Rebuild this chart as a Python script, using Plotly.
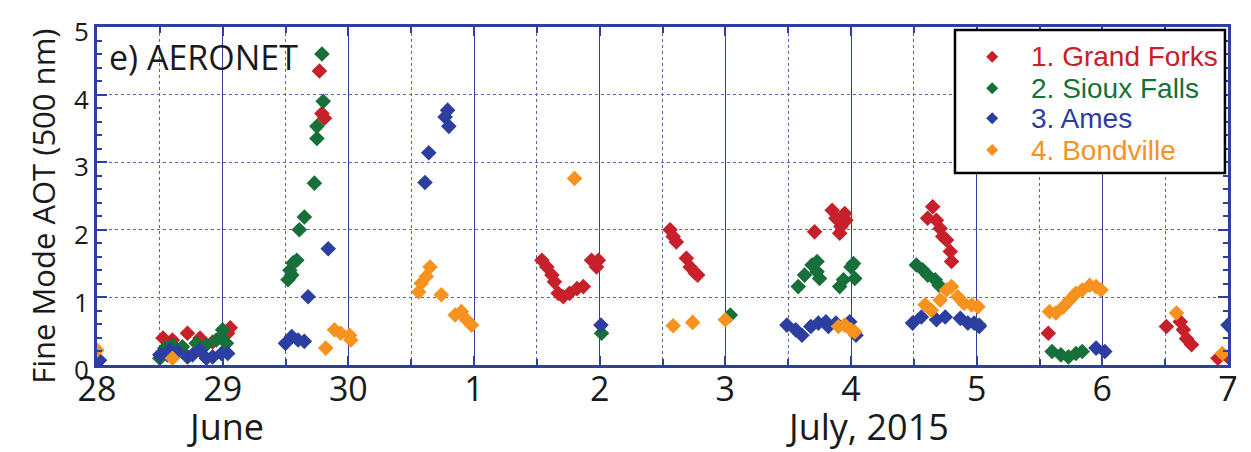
import plotly.graph_objects as go

# Time axis: days counted from 0 UT on 28 June 2015 (28 = 28 June, 31 = 1 July)
tick_days = [28, 29, 30, 31, 32, 33, 34, 35, 36, 37]
tick_labels = ["28", "29", "30", "1", "2", "3", "4", "5", "6", "7"]

# 1. Grand Forks
gf_day = [28.525, 28.60, 28.72, 28.82, 28.92, 29.04, 29.06,
          29.77, 29.79, 29.81,
          31.54, 31.58, 31.62, 31.64, 31.67, 31.71, 31.76, 31.82, 31.87, 31.935, 31.975, 31.99,
          32.56, 32.585, 32.61, 32.69, 32.72, 32.76, 32.78,
          33.71, 33.85, 33.88, 33.91, 33.92, 33.95, 33.96,
          34.61, 34.65, 34.68, 34.71, 34.73, 34.76, 34.79, 34.80,
          35.57,
          36.51, 36.62, 36.645, 36.67, 36.71, 36.92, 37.0]
gf_aot = [0.40, 0.37, 0.47, 0.40, 0.34, 0.47, 0.55,
          4.35, 3.72, 3.65,
          1.55, 1.45, 1.33, 1.23, 1.06, 1.01, 1.06, 1.13, 1.16, 1.55, 1.45, 1.55,
          2.00, 1.90, 1.82, 1.58, 1.45, 1.36, 1.33,
          1.97, 2.29, 2.17, 1.95, 2.05, 2.24, 2.14,
          2.17, 2.34, 2.14, 2.02, 1.90, 1.85, 1.68, 1.53,
          0.47,
          0.57, 0.64, 0.52, 0.39, 0.30, 0.10, 0.12]

# 2. Sioux Falls
sf_day = [28.50, 28.54, 28.60, 28.68, 28.79, 28.87, 28.95, 28.99, 29.00, 29.03,
          29.52, 29.535, 29.55, 29.56, 29.59, 29.61, 29.65, 29.73, 29.75, 29.75, 29.79, 29.80,
          32.015, 33.04,
          33.58, 33.63, 33.69, 33.73, 33.73, 33.75, 33.91, 33.94, 34.00, 34.02, 34.03,
          34.52, 34.57, 34.61, 34.67, 34.70, 35.02,
          35.60, 35.67, 35.73, 35.79, 35.84]
sf_aot = [0.10, 0.25, 0.30, 0.27, 0.32, 0.30, 0.37, 0.42, 0.52, 0.32,
          1.26, 1.40, 1.33, 1.51, 1.55, 2.00, 2.19, 2.69, 3.35, 3.53, 4.60, 3.90,
          0.47, 0.74,
          1.16, 1.33, 1.48, 1.53, 1.38, 1.28, 1.16, 1.26, 1.45, 1.50, 1.28,
          1.48, 1.41, 1.33, 1.26, 1.18, 0.59,
          0.20, 0.15, 0.12, 0.17, 0.20]

# 3. Ames
am_day = [28.02,
          28.50, 28.56, 28.58, 28.64, 28.72, 28.76, 28.82, 28.87, 28.92, 28.99, 29.04,
          29.50, 29.55, 29.60, 29.65, 29.68, 29.84,
          30.61, 30.64, 30.77, 30.79, 30.80,
          32.01,
          33.49, 33.56, 33.61, 33.68, 33.74, 33.80, 33.82, 33.88, 33.99, 34.04,
          34.49, 34.56, 34.68, 34.75, 34.87, 34.93, 34.98, 35.02,
          35.95, 36.02,
          37.0]
am_aot = [0.07,
          0.15, 0.15, 0.22, 0.20, 0.12, 0.15, 0.22, 0.10, 0.12, 0.17, 0.17,
          0.32, 0.42, 0.37, 0.35, 1.01, 1.72,
          2.70, 3.14, 3.67, 3.77, 3.53,
          0.59,
          0.59, 0.52, 0.44, 0.57, 0.62, 0.64, 0.57, 0.62, 0.64, 0.44,
          0.62, 0.71, 0.67, 0.71, 0.69, 0.62, 0.62, 0.57,
          0.25, 0.20,
          0.59]

# 4. Bondville
bv_day = [28.0, 28.60,
          29.82, 29.89, 29.94, 30.01, 30.02,
          30.56, 30.58, 30.62, 30.65, 30.74, 30.85, 30.90, 30.94, 30.98,
          31.80,
          32.585, 32.74, 33.0,
          33.90, 33.95, 34.00, 34.03,
          34.59, 34.64, 34.71, 34.76, 34.80, 34.85, 34.90, 34.96, 35.01,
          35.58, 35.63, 35.69, 35.74, 35.79, 35.84, 35.90, 35.95, 35.99,
          36.59, 36.955]
bv_aot = [0.22, 0.10,
          0.25, 0.52, 0.47, 0.44, 0.37,
          1.08, 1.21, 1.31, 1.45, 1.04, 0.74, 0.79, 0.67, 0.59,
          2.76,
          0.58, 0.63, 0.67,
          0.57, 0.59, 0.52, 0.49,
          0.89, 0.81, 0.96, 1.11, 1.16, 1.01, 0.91, 0.89, 0.86,
          0.79, 0.77, 0.86, 0.96, 1.06, 1.11, 1.18, 1.16, 1.11,
          0.77, 0.17]

series = [
    ("1. Grand Forks", "#c8202b", gf_day, gf_aot),
    ("2. Sioux Falls", "#17703a", sf_day, sf_aot),
    ("3. Ames", "#2c3e9f", am_day, am_aot),
    ("4. Bondville", "#f7921e", bv_day, bv_aot),
]

AXIS = "#2e3f9e"
TXT = "#1a1a1a"
fig = go.Figure()
for name, color, xd, yd in series:
    fig.add_trace(go.Scatter(
        x=xd, y=yd, mode="markers", name=name, showlegend=False,
        marker=dict(symbol="diamond", size=12, color=color, line=dict(width=0)),
    ))

# Boxed key in the upper-right corner (paper coordinates)
key_x0, key_x1, key_y0, key_y1 = 0.7586, 0.9973, 0.568, 0.991
key_rows = [0.912, 0.819, 0.730, 0.636]
shapes = [dict(type="rect", xref="paper", yref="paper",
               x0=key_x0, x1=key_x1, y0=key_y0, y1=key_y1,
               line=dict(color="#000000", width=2.5), fillcolor="white", layer="above")]
annotations = []
for (name, color, _, _), ry in zip(series, key_rows):
    shapes.append(dict(type="path", xref="paper", yref="paper",
                       xsizemode="pixel", ysizemode="pixel",
                       xanchor=0.7915, yanchor=ry,
                       path="M 0 6 L 6 0 L 0 -6 L -6 0 Z",
                       fillcolor=color, line=dict(width=0), layer="above"))
    annotations.append(dict(text=name, x=0.8237, y=ry, xref="paper", yref="paper",
                            xanchor="left", yanchor="middle", showarrow=False,
                            font=dict(family="Liberation Sans", size=28, color=color)))

annotations += [
    dict(text="e) AERONET", x=0.009, y=0.985, xref="paper", yref="paper",
         xanchor="left", yanchor="top", showarrow=False,
         font=dict(size=34, color=TXT)),
    dict(text="Fine Mode AOT (500 nm)", x=-0.048, y=0.47, xref="paper", yref="paper",
         xanchor="center", yanchor="middle", textangle=-90, showarrow=False,
         font=dict(size=31, color=TXT)),
    dict(text="June", x=29.02, y=-0.105, xref="x", yref="paper",
         xanchor="center", yanchor="top", showarrow=False,
         font=dict(size=36, color=TXT)),
    dict(text="July, 2015", x=34.13, y=-0.105, xref="x", yref="paper",
         xanchor="center", yanchor="top", showarrow=False,
         font=dict(size=36, color=TXT)),
]

fig.update_layout(
    width=1251, height=452,
    margin=dict(l=97, r=23, t=27, b=87),
    plot_bgcolor="white", paper_bgcolor="white",
    font=dict(family="Open Sans", color=TXT),
    showlegend=False,
    xaxis=dict(
        range=[28, 37], tickmode="array", tickvals=tick_days, ticktext=tick_labels,
        tickfont=dict(size=34, color=TXT), ticklabelstandoff=-8,
        showline=True, linewidth=3, linecolor=AXIS, mirror="ticks",
        ticks="inside", ticklen=9, tickwidth=2, tickcolor=AXIS,
        showgrid=True, gridcolor=AXIS, gridwidth=1,
        minor=dict(dtick=0.5, ticks="inside", ticklen=6, tickwidth=2, tickcolor=AXIS,
                   showgrid=True, gridcolor="#5a67b0", griddash="dot", gridwidth=1),
        zeroline=False,
    ),
    yaxis=dict(
        range=[0, 5], dtick=1,
        tickfont=dict(size=26, color=TXT), ticklabelshift=5,
        showline=True, linewidth=3, linecolor=AXIS, mirror="ticks",
        ticks="inside", ticklen=10, tickwidth=2, tickcolor=AXIS,
        showgrid=True, gridcolor="#5a67b0", griddash="dot", gridwidth=1,
        minor=dict(dtick=0.2, ticks="inside", ticklen=5, tickwidth=2, tickcolor=AXIS,
                   showgrid=False),
        zeroline=False,
    ),
    shapes=shapes,
    annotations=annotations,
)

fig.write_html("out.html")
